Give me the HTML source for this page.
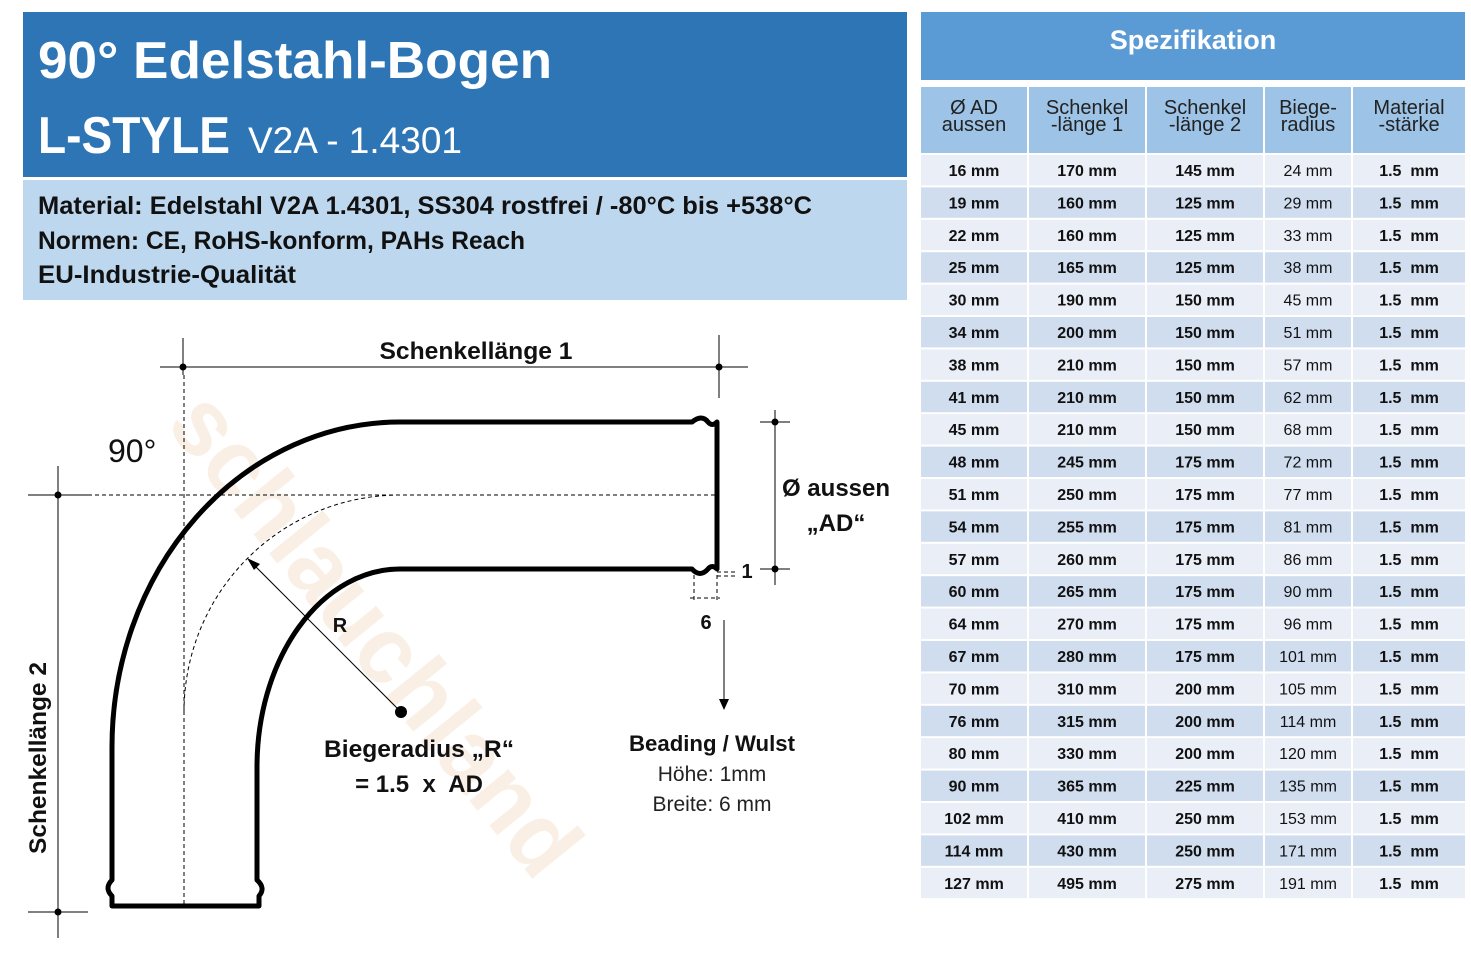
<!DOCTYPE html>
<html><head><meta charset="utf-8"><style>html,body{margin:0;padding:0;background:#fff}svg{display:block}text{font-family:"Liberation Sans",sans-serif}</style></head><body>
<svg width="1471" height="954" viewBox="0 0 1471 954" xmlns="http://www.w3.org/2000/svg">
<rect x="23" y="12" width="884" height="165" fill="#2e75b6"/>
<rect x="23" y="180" width="884" height="120" fill="#bdd7ee"/>
<text x="38" y="78" font-size="52" font-weight="bold" fill="#fff" textLength="514" lengthAdjust="spacingAndGlyphs">90° Edelstahl-Bogen</text>
<text x="38" y="153" font-size="52" font-weight="bold" fill="#fff" textLength="192" lengthAdjust="spacingAndGlyphs">L-STYLE</text>
<text x="248" y="153" font-size="37" fill="#fff" textLength="214" lengthAdjust="spacingAndGlyphs">V2A - 1.4301</text>
<text x="38" y="214" font-size="25" font-weight="bold" fill="#111" textLength="774" lengthAdjust="spacingAndGlyphs">Material: Edelstahl V2A 1.4301, SS304 rostfrei / -80°C bis +538°C</text>
<text x="38" y="249" font-size="25" font-weight="bold" fill="#111" textLength="487" lengthAdjust="spacingAndGlyphs">Normen: CE, RoHS-konform, PAHs Reach</text>
<text x="38" y="283" font-size="25" font-weight="bold" fill="#111" textLength="258" lengthAdjust="spacingAndGlyphs">EU-Industrie-Qualität</text>

<!-- watermark -->
<text x="165" y="425" font-size="95" font-weight="bold" fill="#f5e3d0" opacity="0.55" transform="rotate(51 165 425)" textLength="590" lengthAdjust="spacingAndGlyphs">schlauchland</text>

<!-- diagram dims -->
<g stroke="#000" stroke-width="1" fill="none">
<line x1="160" y1="367" x2="748" y2="367"/>
<line x1="183" y1="338" x2="183" y2="375"/>
<line x1="719" y1="335" x2="719" y2="398"/>
<line x1="775" y1="410" x2="775" y2="585"/>
<line x1="760" y1="422" x2="790" y2="422"/>
<line x1="760" y1="569" x2="790" y2="569"/>
<line x1="58" y1="466" x2="58" y2="938"/>
<line x1="28" y1="495" x2="88" y2="495"/>
<line x1="28" y1="912" x2="88" y2="912"/>
<line x1="724" y1="620" x2="724" y2="700"/>
<line x1="401" y1="712" x2="252" y2="563"/>
</g>
<polygon points="247,558 260,564 254,570" fill="#000"/>
<polygon points="719,699 729,699 724,710" fill="#000"/>
<g fill="#000">
<circle cx="183" cy="367" r="3.5"/><circle cx="719" cy="367" r="3.5"/>
<circle cx="775" cy="422" r="3.5"/><circle cx="775" cy="569" r="3.5"/>
<circle cx="58" cy="495" r="3.5"/><circle cx="58" cy="912" r="3.5"/>
<circle cx="401" cy="712" r="6"/>
</g>
<g stroke="#000" stroke-width="1" stroke-dasharray="4,3" fill="none">
<line x1="184" y1="375" x2="184" y2="908"/>
<line x1="60" y1="495" x2="717" y2="495"/>
<path d="M400 495 A216 217 0 0 0 184 712"/>
<line x1="694" y1="575" x2="694" y2="600"/>
<line x1="717" y1="575" x2="717" y2="600"/>
<line x1="690" y1="598" x2="720" y2="598"/>
<line x1="717" y1="572" x2="738" y2="572"/>
<line x1="717" y1="576" x2="738" y2="576"/>
</g>
<!-- pipe -->
<g stroke="#000" stroke-width="5" fill="none" stroke-linejoin="round">
<path d="M400 422 L692 422 Q702 414 708 422 Q712 427 717 422 L717 569 Q712 564 708 569 Q700 578 692 569 L400 569"/>
<path d="M400 422 A288 325 0 0 0 112 747 L112 880 Q104 888 112 896 L112 906 L259 906 L259 896 Q266 888 257 880 L257 767 A143 198 0 0 1 400 569"/>
</g>
<text x="476" y="359" font-size="24" font-weight="bold" text-anchor="middle" fill="#111" textLength="193" lengthAdjust="spacingAndGlyphs">Schenkellänge 1</text>
<text x="108" y="462" font-size="32" fill="#111">90°</text>
<text x="836" y="496" font-size="24" font-weight="bold" text-anchor="middle" fill="#111">Ø aussen</text>
<text x="836" y="531" font-size="24" font-weight="bold" text-anchor="middle" fill="#111">„AD“</text>
<text x="747" y="578" font-size="20" font-weight="bold" text-anchor="middle" fill="#111">1</text>
<text x="706" y="629" font-size="20" font-weight="bold" text-anchor="middle" fill="#111">6</text>
<text x="340" y="632" font-size="20" font-weight="bold" text-anchor="middle" fill="#111">R</text>
<text x="419" y="757" font-size="24" font-weight="bold" text-anchor="middle" fill="#111" textLength="190" lengthAdjust="spacingAndGlyphs">Biegeradius „R“</text>
<text x="419" y="792" font-size="24" font-weight="bold" text-anchor="middle" fill="#111" xml:space="preserve">= 1.5  x  AD</text>
<text x="712" y="751" font-size="22" font-weight="bold" text-anchor="middle" fill="#111" textLength="166" lengthAdjust="spacingAndGlyphs">Beading / Wulst</text>
<text x="712" y="781" font-size="21" text-anchor="middle" fill="#222">Höhe: 1mm</text>
<text x="712" y="811" font-size="21" text-anchor="middle" fill="#222">Breite: 6 mm</text>
<text x="0" y="0" font-size="24" font-weight="bold" fill="#111" transform="translate(46 854) rotate(-90)" textLength="192" lengthAdjust="spacingAndGlyphs">Schenkellänge 2</text>

<!-- table -->
<rect x="921" y="12" width="544" height="68" fill="#5b9bd5"/>
<text x="1193" y="49" font-size="27" font-weight="bold" fill="#fff" text-anchor="middle">Spezifikation</text>
<g fill="#9dc3e6">
<rect x="921" y="87" width="106" height="66"/><rect x="1029" y="87" width="116" height="66"/><rect x="1147" y="87" width="116" height="66"/><rect x="1265" y="87" width="86" height="66"/><rect x="1353" y="87" width="112" height="66"/>
</g>
<g font-size="20" fill="#222" text-anchor="middle">
<text x="974" y="114">Ø AD</text><text x="974" y="131">aussen</text>
<text x="1087" y="114">Schenkel</text><text x="1087" y="131">-länge 1</text>
<text x="1205" y="114">Schenkel</text><text x="1205" y="131">-länge 2</text>
<text x="1308" y="114">Biege-</text><text x="1308" y="131">radius</text>
<text x="1409" y="114">Material</text><text x="1409" y="131">-stärke</text>
</g>
<g id="rows" font-size="16" text-anchor="middle" fill="#111"></g>
</svg>
<script>
var d=[[16,170,145,24],[19,160,125,29],[22,160,125,33],[25,165,125,38],[30,190,150,45],[34,200,150,51],[38,210,150,57],[41,210,150,62],[45,210,150,68],[48,245,175,72],[51,250,175,77],[54,255,175,81],[57,260,175,86],[60,265,175,90],[64,270,175,96],[67,280,175,101],[70,310,200,105],[76,315,200,114],[80,330,200,120],[90,365,225,135],[102,410,250,153],[114,430,250,171],[127,495,275,191]];
var g=document.getElementById('rows'),h='';
var cx=[[921,106,974],[1029,116,1087],[1147,116,1205],[1265,86,1308],[1353,112,1409]];
d.forEach(function(r,i){var y=155+i*32.4,c=i%2?'#d0ddef':'#e9eef7';
cx.forEach(function(k){h+='<rect x="'+k[0]+'" y="'+y+'" width="'+k[1]+'" height="30.4" fill="'+c+'"/>';});
var v=[r[0]+' mm',r[1]+' mm',r[2]+' mm',r[3]+' mm','1.5  mm'];
v.forEach(function(t,j){h+='<text x="'+cx[j][2]+'" y="'+(y+21)+'"'+(j==3?'':' font-weight="bold"')+' xml:space="preserve">'+t+'</text>';});});
g.innerHTML=h;
</script>
</body></html>
